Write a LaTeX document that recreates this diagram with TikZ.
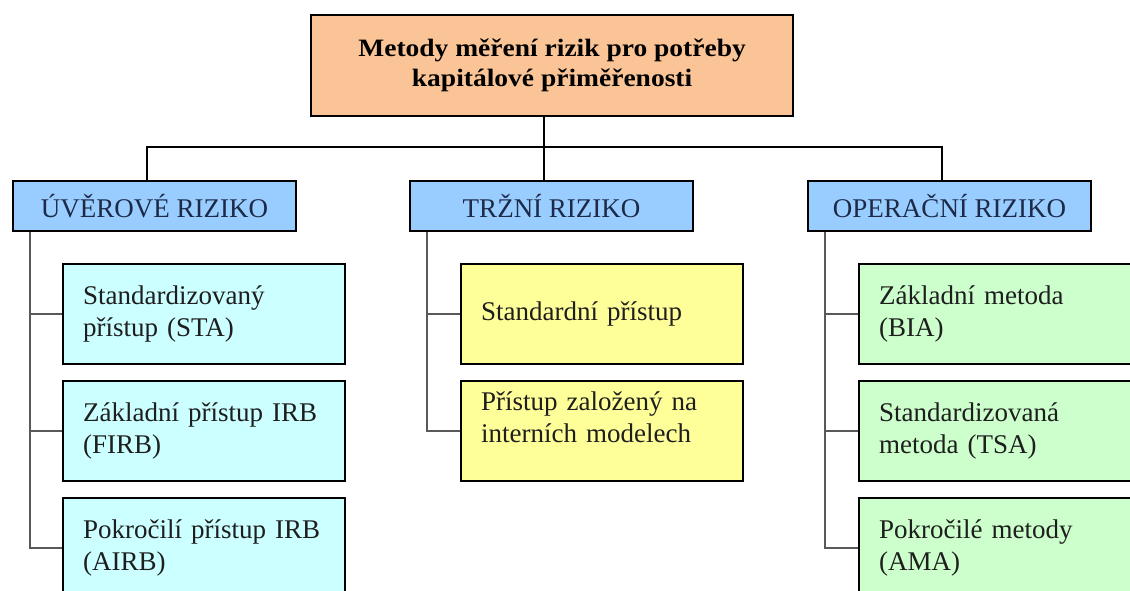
\documentclass[tikz,border=0pt]{standalone}
\usepackage{fontspec}
\setmainfont{Liberation Serif}
\newfontfamily\titlefont[FakeStretch=1.1]{Liberation Serif}
\definecolor{topfill}{HTML}{FBC496}
\definecolor{catfill}{HTML}{99CCFF}
\definecolor{cyanfill}{HTML}{CCFFFF}
\definecolor{yelfill}{HTML}{FFFF99}
\definecolor{grnfill}{HTML}{CCFFCC}
\definecolor{navy}{HTML}{1C2A48}
\definecolor{ink}{HTML}{1E1E1E}
\begin{document}
\begin{tikzpicture}[x=1pt,y=-1pt,
  boxbase/.style={draw=black, line width=2.2pt, rectangle, anchor=north west},
  topbox/.style={boxbase, fill=topfill, minimum width=482pt, minimum height=101pt,
    align=center, font=\fontsize{25}{30}\titlefont\bfseries, text=black},
  catbox/.style={boxbase, fill=catfill, minimum width=283pt, minimum height=50pt,
    font=\fontsize{27}{30}\selectfont, text=navy},
  subbox/.style={boxbase, minimum height=100pt, inner xsep=20pt, text width=242pt,
    align=left, font=\fontsize{27}{32}\selectfont, text=ink},
  main/.style={draw=black, line width=2.2pt},
  tree/.style={draw=black!65, line width=1.5pt}]
\useasboundingbox (0,0) rectangle (1130,590);
\clip (0,0) rectangle (1130,590);

\node[topbox] (top) at (310,14) {Metody měření rizik pro potřeby\\kapitálové přiměřenosti};

\node[catbox] (uv) at (12,180) {ÚVĚROVÉ RIZIKO};
\node[catbox] (tr) at (409,180) {TRŽNÍ RIZIKO};
\node[catbox] (op) at (807,180) {OPERAČNÍ RIZIKO};

\node[subbox, fill=cyanfill] (u1) at (62,263) {Standardizovaný\\přístup (STA)};
\node[subbox, fill=cyanfill] (u2) at (62,380) {Základní přístup IRB\\(FIRB)};
\node[subbox, fill=cyanfill] (u3) at (62,497) {Pokročilí přístup IRB\\(AIRB)};

\node[subbox, fill=yelfill] (t1) at (460,263) {Standardní přístup};
\node[subbox, fill=yelfill, text depth=61pt] (t2) at (460,380) {Přístup založený na\\interních modelech};

\node[subbox, fill=grnfill] (o1) at (858,263) {Základní metoda\\(BIA)};
\node[subbox, fill=grnfill] (o2) at (858,380) {Standardizovaná\\metoda (TSA)};
\node[subbox, fill=grnfill] (o3) at (858,497) {Pokročilé metody\\(AMA)};

\draw[main] ([xshift=-8pt]top.south) -- ([xshift=-7.5pt]tr.north);
\draw[main] ([xshift=-7.5pt]uv.north) -- ++(0,-33) -| ([xshift=-7.5pt]op.north);

\draw[tree] ([xshift=18pt]uv.south west) |- (u1.west);
\draw[tree] ([xshift=18pt]uv.south west) |- (u2.west);
\draw[tree] ([xshift=18pt]uv.south west) |- (u3.west);
\draw[tree] ([xshift=18pt]tr.south west) |- (t1.west);
\draw[tree] ([xshift=18pt]tr.south west) |- (t2.west);
\draw[tree] ([xshift=18pt]op.south west) |- (o1.west);
\draw[tree] ([xshift=18pt]op.south west) |- (o2.west);
\draw[tree] ([xshift=18pt]op.south west) |- (o3.west);
\end{tikzpicture}
\end{document}
